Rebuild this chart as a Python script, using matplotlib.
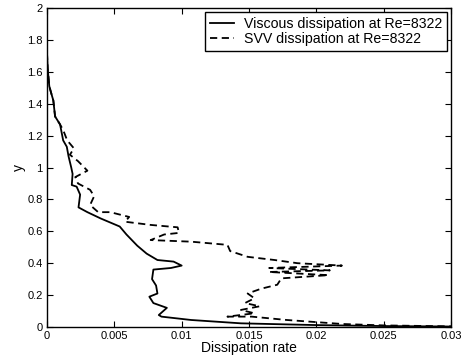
import matplotlib
matplotlib.use("Agg")
import matplotlib.pyplot as plt

plt.rcParams['font.family'] = ['Liberation Sans', 'DejaVu Sans']

visc_x = [0.0, 0.00005, 0.00017, 0.0003, 0.00047, 0.0006, 0.00097, 0.0012, 0.00147, 0.0016,
          0.0018, 0.0019, 0.00184, 0.0022, 0.00246, 0.00234, 0.003, 0.004, 0.0054, 0.0059,
          0.0067, 0.0074, 0.0082, 0.0094, 0.0100, 0.0092, 0.0079, 0.0078, 0.0081, 0.0082,
          0.0076, 0.0079, 0.0089, 0.0083, 0.0085, 0.0107, 0.0144, 0.020, 0.025, 0.030]
visc_y = [1.72, 1.62, 1.51, 1.47, 1.42, 1.32, 1.27, 1.17, 1.13, 1.07,
          1.0, 0.96, 0.89, 0.88, 0.83, 0.75, 0.72, 0.68, 0.63, 0.58,
          0.51, 0.46, 0.42, 0.41, 0.385, 0.37, 0.36, 0.30, 0.26, 0.21,
          0.19, 0.15, 0.12, 0.075, 0.065, 0.044, 0.023, 0.012, 0.006, 0.003]

svv_x = [0.0, 0.00005, 0.00017, 0.0003, 0.00047, 0.0006, 0.00097, 0.0012, 0.0015, 0.002,
         0.0017, 0.0023, 0.003, 0.0021, 0.0023, 0.0032, 0.0035, 0.0032, 0.0038, 0.0047,
         0.0061, 0.0058, 0.0077, 0.0097, 0.0098, 0.0087, 0.0077, 0.0107, 0.0134, 0.0136,
         0.0149, 0.0169, 0.0186, 0.0219, 0.0165, 0.021, 0.0165, 0.0209, 0.0174, 0.0171,
         0.0159, 0.0149, 0.0154, 0.0147, 0.0158, 0.0144, 0.0154, 0.0134, 0.0152, 0.0178,
         0.0219, 0.025, 0.030]
svv_y = [1.72, 1.62, 1.51, 1.47, 1.42, 1.32, 1.27, 1.235, 1.17, 1.12,
         1.08, 1.04, 0.98, 0.94, 0.90, 0.86, 0.82, 0.765, 0.72, 0.72,
         0.69, 0.66, 0.64, 0.625, 0.59, 0.58, 0.545, 0.535, 0.515, 0.476,
         0.44, 0.42, 0.40, 0.385, 0.37, 0.355, 0.345, 0.325, 0.305, 0.265,
         0.24, 0.21, 0.18, 0.15, 0.13, 0.107, 0.086, 0.065, 0.065, 0.044,
         0.019, 0.01, 0.004]

x_ticks = [0, 0.005, 0.01, 0.015, 0.02, 0.025, 0.03]
x_labels = ['0', '0.005', '0.01', '0.015', '0.02', '0.025', '0.03']
y_ticks = [0, 0.2, 0.4, 0.6, 0.8, 1.0, 1.2, 1.4, 1.6, 1.8, 2.0]
y_labels = ['0', '0.2', '0.4', '0.6', '0.8', '1', '1.2', '1.4', '1.6', '1.8', '2']

fig = plt.figure(figsize=(4.65, 3.61), dpi=100)
ax = fig.add_axes([47/465, 34/361, 404/465, 319/361])

ax.plot(visc_x, visc_y, color='black', linewidth=1.3, linestyle='-',
        label='Viscous dissipation at Re=8322')
ax.plot(svv_x, svv_y, color='black', linewidth=1.3, linestyle=(0, (4, 2.5)),
        label='SVV dissipation at Re=8322')

ax.set_xlim(0, 0.03)
ax.set_ylim(0, 2)
ax.set_xticks(x_ticks)
ax.set_xticklabels(x_labels)
ax.set_yticks(y_ticks)
ax.set_yticklabels(y_labels)
ax.tick_params(direction='in', length=4, width=0.8, labelsize=8, top=True, right=True, pad=3)
for s in ax.spines.values():
    s.set_linewidth(1.0)

ax.set_xlabel('Dissipation rate', fontsize=10, labelpad=0)
ax.set_ylabel('y', fontsize=10, labelpad=1)

leg = ax.legend(loc='upper right', fontsize=10.2, frameon=True, fancybox=False,
                edgecolor='black', framealpha=1, borderpad=0.35, labelspacing=0.05,
                handlelength=1.65, handletextpad=0.7, borderaxespad=0.3)
leg.get_frame().set_linewidth(1.0)

fig.savefig('out.png', dpi=100)
